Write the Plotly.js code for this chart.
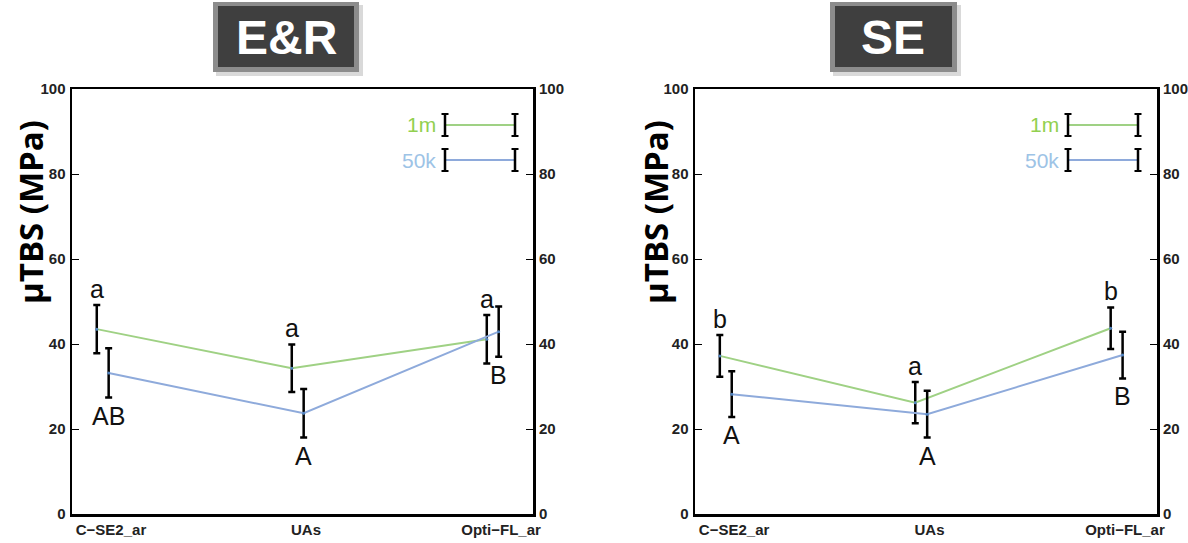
<!DOCTYPE html>
<html>
<head>
<meta charset="utf-8">
<script src="https://cdn.plot.ly/plotly-3.0.1.min.js"></script>
<style>html,body{margin:0;padding:0;background:#fff}#chart{width:1188px;height:543px}</style>
</head>
<body>
<div id="chart"></div>
<script>
// ---- data ----
const categories = ["C\u2212SE2_ar", "UAs", "Opti\u2212FL_ar"];
const seriesNames = ["1m", "50k"];
const panelTitles = ["E&R", "SE"];

const er_1m = [43.5, 34.3, 41.1];
const er_1m_err = [5.7, 5.6, 5.7];
const er_50k = [33.2, 23.7, 42.9];
const er_50k_err = [5.8, 5.7, 5.9];
const er_1m_letters = ["a", "a", "a"];
const er_50k_letters = ["AB", "A", "B"];

const se_1m = [37.2, 26.2, 43.7];
const se_1m_err = [4.9, 4.85, 4.9];
const se_50k = [28.2, 23.5, 37.4];
const se_50k_err = [5.4, 5.5, 5.5];
const se_1m_letters = ["b", "a", "b"];
const se_50k_letters = ["A", "A", "B"];

const yTicks = [0, 20, 40, 60, 80, 100];

// ---- styling ----
const W = 1188, H = 543;
const px = x => x / W, py = y => 1 - y / H;
const GREEN = "#9fd184", BLUE = "#8eaadb";
const GREEN_T = "#92d050", BLUE_T = "#9dc3e6";
const OFF_1M = -0.073, OFF_50K = -0.012;
const FONT = "Liberation Sans, Arial, sans-serif";

const panels = [
  {x0: 72, x1: 533, d1: er_1m, e1: er_1m_err, d2: er_50k, e2: er_50k_err, l1: er_1m_letters, l2: er_50k_letters, title: panelTitles[0], box: [213, 359]},
  {x0: 695, x1: 1157, d1: se_1m, e1: se_1m_err, d2: se_50k, e2: se_50k_err, l1: se_1m_letters, l2: se_50k_letters, title: panelTitles[1], box: [830, 957]}
];

const traces = [], annotations = [], shapes = [];
const layout = {
  width: W, height: H, margin: {l: 0, r: 0, t: 0, b: 0},
  paper_bgcolor: "#fff", plot_bgcolor: "#fff", showlegend: false,
  font: {family: FONT, color: "#222"}
};

panels.forEach((p, k) => {
  const xa = k === 0 ? "x" : "x2";
  const ya = k === 0 ? "y" : "y2";
  const xKey = k === 0 ? "xaxis" : "xaxis2";
  const yKey = k === 0 ? "yaxis" : "yaxis2";
  const yKeyR = k === 0 ? "yaxis3" : "yaxis4";
  const yaR = k === 0 ? "y3" : "y4";
  const idx = categories.map((c, i) => i);

  const mk = (vals, errs, off, color) => ({
    type: "scatter", mode: "lines+markers",
    x: idx.map(i => i + off), y: vals, xaxis: xa, yaxis: ya,
    line: {color: color, width: 2},
    marker: {size: 3, color: "#4f81bd"},
    error_y: {type: "data", array: errs, visible: true, color: "#000", thickness: 2.5, width: 3.5},
    hoverinfo: "skip"
  });
  traces.push(mk(p.d1, p.e1, OFF_1M, GREEN));
  traces.push(mk(p.d2, p.e2, OFF_50K, BLUE));
  traces.push({type: "scatter", mode: "none", x: [0], y: [0], xaxis: xa, yaxis: yaR, hoverinfo: "skip"});

  const dom = [px(p.x0), px(p.x1)];
  const ydom = [py(514), py(89)];
  const tf = {family: FONT, size: 15, color: "#222", weight: "bold"};
  layout[xKey] = {
    domain: dom, anchor: ya, range: [-0.2, 2.164], tickmode: "array", tickvals: idx, ticktext: categories,
    showline: true, mirror: true, linecolor: "#000", linewidth: 2.5, ticks: "", showgrid: false, zeroline: false,
    tickfont: tf, automargin: false
  };
  layout[yKey] = {
    domain: ydom, anchor: xa, range: [0, 100], tickmode: "array", tickvals: yTicks,
    showline: true, mirror: "ticks", linecolor: "#000", linewidth: 2.5, ticks: "inside", ticklen: 7, tickcolor: "#000", tickwidth: 1,
    showgrid: false, zeroline: false, tickfont: tf, automargin: false, ticklabelstandoff: 1
  };
  layout[yKeyR] = {
    overlaying: ya, anchor: xa, side: "right", range: [0, 100], tickmode: "array", tickvals: yTicks,
    showline: false, ticks: "", showgrid: false, zeroline: false,
    tickfont: tf, automargin: false, ticklabelstandoff: 5
  };

  idx.forEach(i => {
    annotations.push({xref: xa, yref: ya, x: i + OFF_1M, y: p.d1[i] + p.e1[i], text: p.l1[i], showarrow: false,
      xanchor: "center", yanchor: "bottom", yshift: 0, font: {family: FONT, size: 25, color: "#111"}});
    annotations.push({xref: xa, yref: ya, x: i + OFF_50K, y: p.d2[i] - p.e2[i], text: p.l2[i], showarrow: false,
      xanchor: "center", yanchor: "top", yshift: -2, font: {family: FONT, size: 25, color: "#111"}});
  });

  const tx = k === 0 ? 30 : 655;
  annotations.push({xref: "paper", yref: "paper", x: px(tx), y: py(212), xanchor: "center", yanchor: "middle",
    text: "\u00b5TBS (MPa)", textangle: -90, showarrow: false,
    font: {family: "Open Sans, sans-serif", size: 33, color: "#000", weight: "bold"}});

  const [b0, b1] = p.box;
  shapes.push({type: "rect", xref: "paper", yref: "paper", x0: px(b0 + 3), x1: px(b1 + 4), y0: py(76), y1: py(5), fillcolor: "#d9d9d9", line: {width: 0}});
  shapes.push({type: "rect", xref: "paper", yref: "paper", x0: px(b0), x1: px(b1), y0: py(72), y1: py(2), fillcolor: "#8c8c8c", line: {width: 0}});
  shapes.push({type: "rect", xref: "paper", yref: "paper", x0: px(b0 + 5), x1: px(b1 - 5), y0: py(67), y1: py(6), fillcolor: "#3f3f3f", line: {width: 0}});
  annotations.push({xref: "paper", yref: "paper", x: px((b0 + b1) / 2), y: py(37), xanchor: "center", yanchor: "middle",
    text: p.title, showarrow: false, font: {family: FONT, size: 48, color: "#fff", weight: "bold"}});

  const lx0 = p.x0 + 373, lx1 = p.x0 + 443;
  [[125, GREEN, GREEN_T, seriesNames[0]], [160, BLUE, BLUE_T, seriesNames[1]]].forEach(([yy, lc, tc, name]) => {
    shapes.push({type: "line", xref: "paper", yref: "paper", x0: px(lx0), x1: px(lx1), y0: py(yy), y1: py(yy), line: {color: lc, width: 2}});
    [lx0, lx1].forEach(cx => {
      shapes.push({type: "line", xref: "paper", yref: "paper", x0: px(cx), x1: px(cx), y0: py(yy - 11), y1: py(yy + 11), line: {color: "#000", width: 2.5}});
      shapes.push({type: "line", xref: "paper", yref: "paper", x0: px(cx - 3.5), x1: px(cx + 3.5), y0: py(yy - 11), y1: py(yy - 11), line: {color: "#000", width: 2}});
      shapes.push({type: "line", xref: "paper", yref: "paper", x0: px(cx - 3.5), x1: px(cx + 3.5), y0: py(yy + 11), y1: py(yy + 11), line: {color: "#000", width: 2}});
    });
    annotations.push({xref: "paper", yref: "paper", x: px(lx0 - 7), y: py(yy), xanchor: "right", yanchor: "middle", text: name, showarrow: false,
      font: {family: FONT, size: 21, color: tc}});
  });
});

layout.annotations = annotations;
layout.shapes = shapes;
Plotly.newPlot("chart", traces, layout, {staticPlot: true});
</script>
</body>
</html>
